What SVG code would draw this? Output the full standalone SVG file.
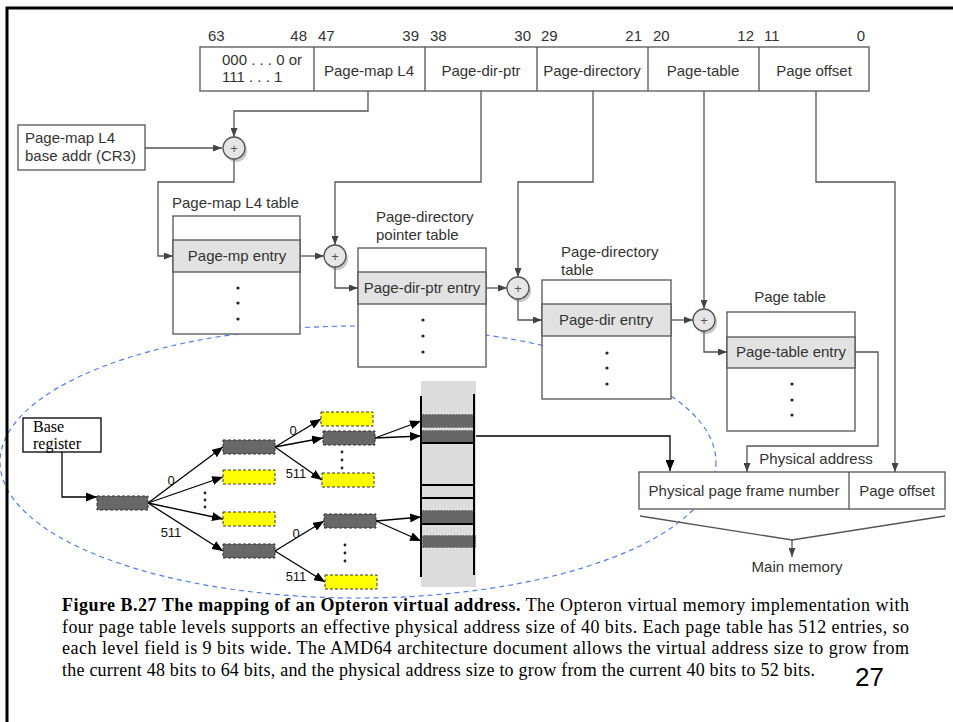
<svg xmlns="http://www.w3.org/2000/svg" width="953" height="722" viewBox="0 0 953 722">
<style>
.lbl{font-family:"Liberation Sans",Arial,sans-serif;font-size:15px;fill:#333}
.mid{text-anchor:middle}
.end{text-anchor:end}
.box{fill:#fff;stroke:#555;stroke-width:1.3}
.entry{fill:#e2e2e2;stroke:#555;stroke-width:1.3}
.conn{fill:none;stroke:#555;stroke-width:1.3}
.blk{fill:none;stroke:#000;stroke-width:1.3}
.dk{fill:#676767;stroke:#333;stroke-width:1;stroke-dasharray:3 2}
.yl{fill:#ffff00;stroke:#333;stroke-width:1;stroke-dasharray:3 2}
.dot{fill:#222}
.num{font-family:"Liberation Sans",Arial,sans-serif;font-size:13px;fill:#111}
.cap{font-family:"Liberation Serif","Times New Roman",serif;font-size:18px;fill:#000}
.adder circle.sh{fill:#999;opacity:.55}
.adder circle.fg{fill:#e6e6e6;stroke:#555;stroke-width:1.3}
.plus{font-family:"Liberation Sans",Arial,sans-serif;font-size:13px;fill:#555;text-anchor:middle}
</style>
<defs>
<marker id="ga" markerUnits="userSpaceOnUse" markerWidth="9" markerHeight="7" refX="9" refY="3.5" orient="auto"><path d="M0,0 L9,3.5 L0,7 z" fill="#444"/></marker>
<marker id="ba" markerUnits="userSpaceOnUse" markerWidth="11" markerHeight="9" refX="11" refY="4.5" orient="auto"><path d="M0,0 L11,4.5 L0,9 z" fill="#000"/></marker>
</defs>
<rect width="953" height="722" fill="#fff"/>

<!-- dashed ellipse -->
<ellipse cx="358" cy="462" rx="358" ry="136" fill="none" stroke="#4f7ff0" stroke-width="1.2" stroke-dasharray="5 4"/>

<!-- frame -->
<path d="M7,722 V8 H953" fill="none" stroke="#000" stroke-width="3"/>

<!-- virtual address -->
<g id="vaddr">
<rect class="box" x="200" y="47" width="669" height="44"/>
<path class="conn" d="M314,47 V91 M425,47 V91 M537,47 V91 M648,47 V91 M759,47 V91"/>
<text class="lbl" x="208" y="41">63</text><text class="lbl end" x="307" y="41">48</text>
<text class="lbl" x="318" y="41">47</text><text class="lbl end" x="419" y="41">39</text>
<text class="lbl" x="430" y="41">38</text><text class="lbl end" x="531" y="41">30</text>
<text class="lbl" x="541" y="41">29</text><text class="lbl end" x="642" y="41">21</text>
<text class="lbl" x="653" y="41">20</text><text class="lbl end" x="754" y="41">12</text>
<text class="lbl" x="764" y="41">11</text><text class="lbl end" x="865" y="41">0</text>
<text class="lbl" x="222" y="65">000 . . . 0 or</text>
<text class="lbl" x="222" y="82">111 . . . 1</text>
<text class="lbl mid" x="369" y="76">Page-map L4</text>
<text class="lbl mid" x="481" y="76">Page-dir-ptr</text>
<text class="lbl mid" x="592" y="76">Page-directory</text>
<text class="lbl mid" x="703" y="76">Page-table</text>
<text class="lbl mid" x="814" y="76">Page offset</text>
</g>

<g id="cr3">
<rect class="box" x="18" y="125" width="127" height="45"/>
<text class="lbl" x="25" y="143">Page-map L4</text>
<text class="lbl" x="25" y="161">base addr (CR3)</text>
</g>

<g id="adder1" class="adder"><circle class="sh" cx="236" cy="151" r="11"/><circle class="fg" cx="234" cy="148" r="11"/><text class="plus" x="234" y="152.5">+</text></g>
<g id="adder2" class="adder"><circle class="sh" cx="337" cy="259" r="11"/><circle class="fg" cx="335" cy="256" r="11"/><text class="plus" x="335" y="260.5">+</text></g>
<g id="adder3" class="adder"><circle class="sh" cx="520" cy="291" r="11"/><circle class="fg" cx="518" cy="288" r="11"/><text class="plus" x="518" y="292.5">+</text></g>
<g id="adder4" class="adder"><circle class="sh" cx="706" cy="323" r="11"/><circle class="fg" cx="704" cy="320" r="11"/><text class="plus" x="704" y="324.5">+</text></g>

<g id="pml4">
<text class="lbl" x="172" y="208">Page-map L4 table</text>
<rect class="box" x="173" y="216" width="127" height="118"/>
<rect class="entry" x="173" y="240" width="127" height="32"/>
<text class="lbl mid" x="237" y="261">Page-mp entry</text>
<circle class="dot" cx="238" cy="288" r="1.6"/><circle class="dot" cx="238" cy="303" r="1.6"/><circle class="dot" cx="238" cy="319" r="1.6"/>
</g>

<g id="pdpt">
<text class="lbl" x="376" y="222">Page-directory</text>
<text class="lbl" x="376" y="240">pointer table</text>
<rect class="box" x="358" y="248" width="128" height="119"/>
<rect class="entry" x="358" y="272" width="128" height="32"/>
<text class="lbl mid" x="422" y="293">Page-dir-ptr entry</text>
<circle class="dot" cx="423" cy="320" r="1.6"/><circle class="dot" cx="423" cy="336" r="1.6"/><circle class="dot" cx="423" cy="352" r="1.6"/>
</g>

<g id="pd">
<text class="lbl" x="561" y="257">Page-directory</text>
<text class="lbl" x="561" y="275">table</text>
<rect class="box" x="542" y="280" width="129" height="119"/>
<rect class="entry" x="542" y="304" width="129" height="32"/>
<text class="lbl mid" x="606" y="325">Page-dir entry</text>
<circle class="dot" cx="607" cy="353" r="1.6"/><circle class="dot" cx="607" cy="368" r="1.6"/><circle class="dot" cx="607" cy="384" r="1.6"/>
</g>

<g id="pt">
<text class="lbl mid" x="790" y="302">Page table</text>
<rect class="box" x="727" y="312" width="128" height="119"/>
<rect class="entry" x="727" y="337" width="128" height="31"/>
<text class="lbl mid" x="791" y="357">Page-table entry</text>
<circle class="dot" cx="792" cy="384" r="1.6"/><circle class="dot" cx="792" cy="400" r="1.6"/><circle class="dot" cx="792" cy="415" r="1.6"/>
</g>

<g id="paddr">
<rect class="box" x="639" y="472" width="306" height="37"/>
<path class="conn" d="M849,472 V509"/>
<text class="lbl mid" x="744" y="496">Physical page frame number</text>
<text class="lbl mid" x="897" y="496">Page offset</text>
<text class="lbl mid" x="816" y="464">Physical address</text>
</g>

<g id="mainmem">
<text class="lbl mid" x="797" y="572">Main memory</text>
</g>

<!-- connectors -->
<g id="connectors">
<path class="conn" d="M145,148 H222" marker-end="url(#ga)"/>
<path class="conn" d="M368,91 V111 H234 V137" marker-end="url(#ga)"/>
<path class="conn" d="M234,159 V182 H158 V256 H173" marker-end="url(#ga)"/>
<path class="conn" d="M300,256 H324" marker-end="url(#ga)"/>
<path class="conn" d="M481,91 V182 H335 V245" marker-end="url(#ga)"/>
<path class="conn" d="M335,267 V288 H358" marker-end="url(#ga)"/>
<path class="conn" d="M486,288 H507" marker-end="url(#ga)"/>
<path class="conn" d="M593,91 V182 H518 V277" marker-end="url(#ga)"/>
<path class="conn" d="M518,299 V320 H542" marker-end="url(#ga)"/>
<path class="conn" d="M671,320 H693" marker-end="url(#ga)"/>
<path class="conn" d="M704,91 V309" marker-end="url(#ga)"/>
<path class="conn" d="M704,331 V352 H727" marker-end="url(#ga)"/>
<path class="conn" d="M855,352 H878 V446 H747 V472" marker-end="url(#ga)"/>
<path class="conn" d="M816,91 V182 H895 V472" marker-end="url(#ga)"/>
<path class="conn" d="M640,516 L792,540 L945,516"/>
<path class="conn" d="M792,540 V557" marker-end="url(#ga)"/>

<!-- tree connectors -->
<path class="blk" d="M62,452 V497 H97" marker-end="url(#ba)"/>
<path class="blk" d="M148,503 L223,447" marker-end="url(#ba)"/>
<path class="blk" d="M148,503 L223,477" marker-end="url(#ba)"/>
<path class="blk" d="M148,503 L223,519" marker-end="url(#ba)"/>
<path class="blk" d="M148,503 L223,551" marker-end="url(#ba)"/>
<path class="blk" d="M275,447 L321,419" marker-end="url(#ba)"/>
<path class="blk" d="M275,447 L323,438" marker-end="url(#ba)"/>
<path class="blk" d="M275,447 L322,480" marker-end="url(#ba)"/>
<path class="blk" d="M275,551 L324,521" marker-end="url(#ba)"/>
<path class="blk" d="M275,551 L325,582" marker-end="url(#ba)"/>
<path class="blk" d="M375,438 L421,421" marker-end="url(#ba)"/>
<path class="blk" d="M375,438 L421,436" marker-end="url(#ba)"/>
<path class="blk" d="M376,521 L421,517" marker-end="url(#ba)"/>
<path class="blk" d="M376,521 L421,541" marker-end="url(#ba)"/>
<path class="blk" d="M474,436 H670 V471" marker-end="url(#ba)"/>
</g>

<g id="basereg">
<rect x="23" y="418" width="78" height="34" fill="#fff" stroke="#000" stroke-width="1.3"/>
<text class="cap" x="33" y="432" style="font-size:16px">Base</text>
<text class="cap" x="33" y="449" style="font-size:16px">register</text>
</g>

<g id="tree">
<rect class="dk" x="97" y="496" width="51" height="14"/>
<rect class="dk" x="223" y="440" width="52" height="14"/>
<rect class="yl" x="223" y="470" width="52" height="14"/>
<rect class="yl" x="223" y="512" width="52" height="14"/>
<rect class="dk" x="223" y="544" width="52" height="14"/>
<rect class="yl" x="321" y="412" width="52" height="14"/>
<rect class="dk" x="323" y="431" width="52" height="14"/>
<rect class="yl" x="322" y="473" width="52" height="14"/>
<rect class="dk" x="324" y="514" width="52" height="14"/>
<rect class="yl" x="325" y="575" width="52" height="14"/>
<text class="num mid" x="171" y="485">0</text>
<text class="num mid" x="171" y="537">511</text>
<text class="num mid" x="293" y="435">0</text>
<text class="num mid" x="296" y="478">511</text>
<text class="num mid" x="296" y="538">0</text>
<text class="num mid" x="296" y="581">511</text>
<circle class="dot" cx="205" cy="493" r="1.4"/><circle class="dot" cx="205" cy="500" r="1.4"/><circle class="dot" cx="205" cy="507" r="1.4"/>
<circle class="dot" cx="342" cy="452" r="1.4"/><circle class="dot" cx="342" cy="460" r="1.4"/><circle class="dot" cx="342" cy="468" r="1.4"/>
<circle class="dot" cx="345" cy="545" r="1.4"/><circle class="dot" cx="345" cy="553" r="1.4"/><circle class="dot" cx="345" cy="561" r="1.4"/>
</g>

<g id="memory">
<rect x="421" y="381" width="55" height="206" fill="#dcdcdc"/>
<rect x="421" y="414" width="53" height="14" fill="#666" stroke="#eee" stroke-width="0.8" stroke-dasharray="2 1"/>
<rect x="421" y="430" width="53" height="13" fill="#666" stroke="#eee" stroke-width="0.8" stroke-dasharray="2 1"/>
<rect x="421" y="510" width="53" height="14" fill="#666" stroke="#eee" stroke-width="0.8" stroke-dasharray="2 1"/>
<rect x="422" y="535" width="54" height="13" fill="#666" stroke="#eee" stroke-width="0.8" stroke-dasharray="2 1"/>
<path d="M421,396 V577 M474,394 V575 M421,443 H474 M421,485 H474 M421,498 H474 M421,524 H474" fill="none" stroke="#000" stroke-width="2"/>
</g>

<g id="caption">
<text class="cap" x="62" y="611" textLength="847" lengthAdjust="spacing"><tspan font-weight="bold">Figure B.27 The mapping of an Opteron virtual address.</tspan> The Opteron virtual memory implementation with</text>
<text class="cap" x="62" y="632.5" textLength="847" lengthAdjust="spacing">four page table levels supports an effective physical address size of 40 bits. Each page table has 512 entries, so</text>
<text class="cap" x="62" y="654" textLength="847" lengthAdjust="spacing">each level field is 9 bits wide. The AMD64 architecture document allows the virtual address size to grow from</text>
<text class="cap" x="62" y="675.5" textLength="753" lengthAdjust="spacing">the current 48 bits to 64 bits, and the physical address size to grow from the current 40 bits to 52 bits.</text>
<text x="855" y="686" style="font-family:'Liberation Sans',Arial,sans-serif;font-size:26px;fill:#000">27</text>
</g>
</svg>
